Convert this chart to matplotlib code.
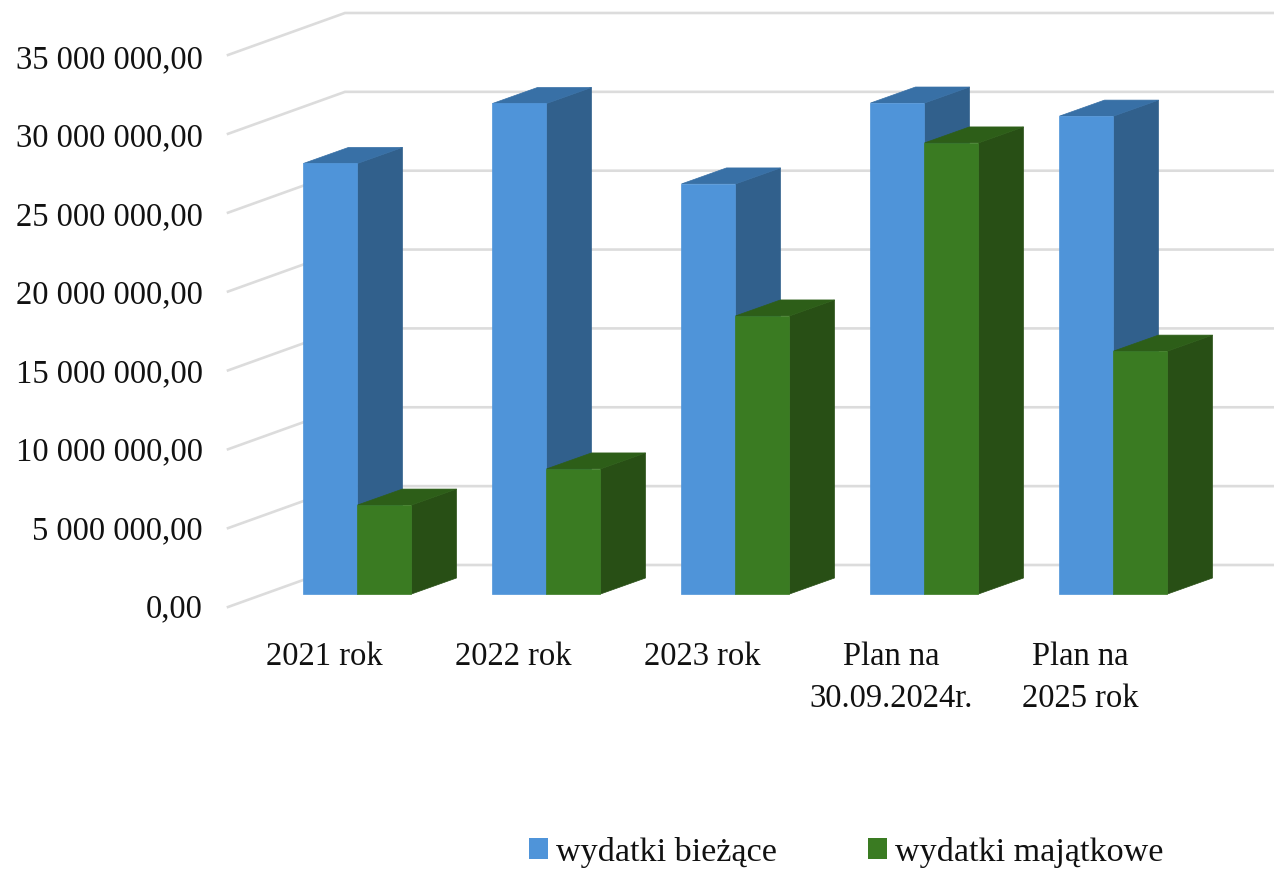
#!/usr/bin/python
#-*- coding:utf-8 -*-
import matplotlib
matplotlib.use('Agg')
import matplotlib.pyplot as plt
from matplotlib.patches import Polygon, Patch

# dane
categories = ['2021 rok', '2022 rok', '2023 rok', 'Plan na\n30.09.2024r.', 'Plan na\n2025 rok']
biezace = [27300000, 31100000, 26000000, 31130000, 30300000]
majatkowe = [5640000, 7930000, 17630000, 28600000, 15400000]
y_ticks = [0, 5000000, 10000000, 15000000, 20000000, 25000000, 30000000, 35000000]
y_labels = ['0,00', '5 000 000,00', '10 000 000,00', '15 000 000,00',
            '20 000 000,00', '25 000 000,00', '30 000 000,00', '35 000 000,00']
series_names = ['wydatki bieżące', 'wydatki majątkowe']

W, H = 1274, 872
PX_X = 189.0          # pikseli na kategorie
PX_Y = 78.86 / 5e6    # pikseli na jednostke wartosci
X0, Y0 = 303.5, 594   # lewy dolny rog pierwszego slupka


def vy(px):
    return (Y0 - px) / PX_Y


def ux(px):
    return (px - X0) / PX_X


plt.rcParams['font.family'] = ['Liberation Serif', 'DejaVu Serif']
fig = plt.figure(figsize=(W / 100, H / 100), dpi=100)
ax = fig.add_axes([0, 0, 1, 1])
ax.set_xlim(ux(0), ux(W))
ax.set_ylim(vy(H), vy(0))
ax.axis('off')

# siatka: sciana tylna i skosy po lewej
back_off = 29 / PX_Y
left_off = -13 / PX_Y
grid_color = '#dcdcdc'
for v in y_ticks:
    ax.plot([ux(228), ux(345), ux(W)],
            [v + left_off, v + back_off, v + back_off],
            color=grid_color, lw=1.9, zorder=1, solid_joinstyle='miter')

# slupki 3D
bar_w = 54 / PX_X
dx = 45 / PX_X
dy = 16 / PX_Y


def bar3d(x, v, front, side, top):
    ax.add_patch(Polygon([(x + bar_w, 0), (x + bar_w + dx, dy), (x + bar_w + dx, v + dy), (x + bar_w, v)],
                         facecolor=side, edgecolor=side, lw=0.5, zorder=3))
    ax.add_patch(Polygon([(x, v), (x + dx, v + dy), (x + bar_w + dx, v + dy), (x + bar_w, v)],
                         facecolor=top, edgecolor=top, lw=0.5, zorder=3))
    ax.add_patch(Polygon([(x, 0), (x + bar_w, 0), (x + bar_w, v), (x, v)],
                         facecolor=front, edgecolor=front, lw=0.5, zorder=3))


for i in range(len(categories)):
    bar3d(i, biezace[i], '#4f94d9', '#31608c', '#3870a6')
    bar3d(i + bar_w, majatkowe[i], '#3a7b22', '#284f15', '#2d5e18')

# opisy osi
fs = 23.5
for v, lab in zip(y_ticks, y_labels):
    ax.text(ux(203), vy(609 - v * 78.43 / 5e6), lab, ha='right', va='center',
            fontsize=fs, color='#111111')

for i, lab in enumerate(categories):
    ax.text(i + ux(324), vy(641), lab, ha='center', va='top', fontsize=fs,
            color='#111111', linespacing=1.53)

handles = [Patch(facecolor='#4f94d9', label=series_names[0]),
           Patch(facecolor='#3a7b22', label=series_names[1])]
ax.legend(handles=handles, loc='center left', bbox_to_anchor=(529 / W, 1 - 852 / H),
          bbox_transform=fig.transFigure, ncol=2, frameon=False, fontsize=24.6,
          handlelength=0.55, handleheight=0.55, handletextpad=0.24,
          columnspacing=2.68, borderpad=0, borderaxespad=0, labelcolor='#111111')

fig.savefig('out.png', dpi=100)
